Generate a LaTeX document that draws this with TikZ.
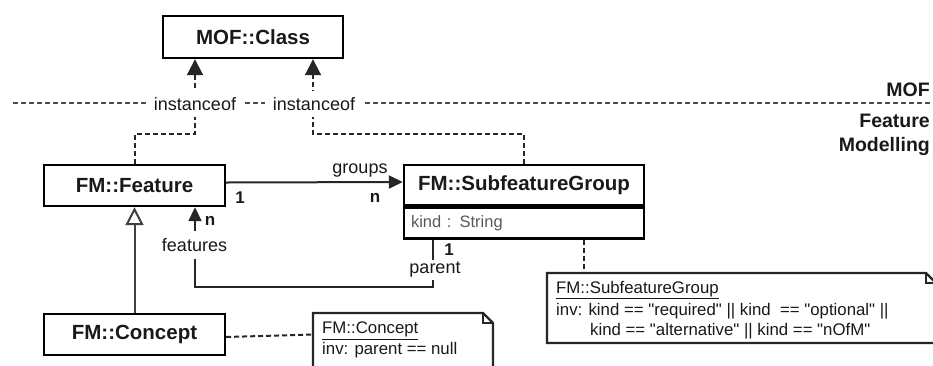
\documentclass[tikz,border=0pt]{standalone}
\usepackage{fontspec}
\setmainfont{Liberation Sans}
\usetikzlibrary{arrows.meta}

\newcommand{\qq}[1]{\textquotedbl#1\textquotedbl}

\tikzset{
  every node/.style={font=\fontsize{18}{21}\selectfont, text=black!90},
  classbox/.style={draw, line width=2.4pt, inner sep=0pt, font=\fontsize{20.5}{24}\selectfont\bfseries},
  attrbox/.style={draw, line width=2.4pt, inner sep=0pt, font=\fontsize{16.5}{20}\selectfont, text=black!65},
  conn/.style={line width=2pt, black!85},
  dephead/.style={-{Triangle[length=16pt,width=16pt]}},
  assochead/.style={-{Triangle[length=14pt,width=13pt]}},
  dep/.style={conn, dash pattern=on 5pt off 3pt, dephead},
  notelink/.style={conn, dash pattern=on 5pt off 3pt},
  sepline/.style={line width=1.8pt, black!70, dash pattern=on 5pt off 3pt},
  lbl/.style={fill=white, inner xsep=8pt, inner ysep=6pt},
  mult/.style={inner sep=1pt, font=\fontsize{17}{20}\selectfont\bfseries},
  layer/.style={font=\fontsize{19.5}{24}\selectfont\bfseries, align=right, inner sep=0pt},
  notetext/.style={align=left, inner sep=0pt, anchor=north west, font=\fontsize{16.8}{20}\selectfont},
  notebody/.style={line width=2.2pt, black!85, fill=white},
  fold/.style={line width=1.4pt, black!85},
  genhead/.style={-{Triangle[open, length=18pt, width=18pt, fill=white]}},
}

\begin{document}
\begin{tikzpicture}[x=1pt, y=-1pt]
\useasboundingbox (0,0) rectangle (933,365);
\clip (0,0) rectangle (933,365);

% layer separator with its labels
\draw[sepline] (13,103) -- (933,103);
\node[layer, anchor=south east] (mofl) at (930,97) {MOF};
\node[layer, anchor=north east] (fml) at (930,114) {Feature\\Modelling};

% classes
\node[classbox, minimum width=180pt, minimum height=42pt] (mof) at (253,37) {MOF::Class};
\node[classbox, minimum width=181pt, minimum height=41pt] (feat) at (134.5,185.5) {FM::Feature};
\node[classbox, minimum width=240pt, minimum height=40pt] (sfg) at (524,185) {FM::SubfeatureGroup};
\node[attrbox, minimum width=240pt, minimum height=31pt, anchor=north,
      text width=226pt, align=left] (sfgattr) at (sfg.south) {kind : String};
\node[classbox, minimum width=181pt, minimum height=41pt] (conc) at (134.5,334.5) {FM::Concept};

% instanceof dependencies
\draw[dep] (feat.north) -- ++(0,-30) -| ([xshift=-58pt]mof.south);
\draw[dep] (sfg.north) -- ++(0,-30) -| ([xshift=60pt]mof.south);
\node[lbl] (io1) at (195,104) {instanceof};
\node[lbl] (io2) at (314,104) {instanceof};

% groups association
\draw[conn, assochead] ([yshift=3pt]feat.east) -- ([yshift=3pt]sfg.west);
\node[inner sep=1pt] (grp) at (360,171) {groups};
\node[mult] (m1) at (240,198) {1};
\node[mult] (mn) at (375,198) {n};

% generalization
\draw[conn, black!75, genhead] (conc.north) -- (feat.south);

% features / parent association
\coordinate (pend) at ([xshift=-91pt]sfgattr.south);
\coordinate (fend) at ([xshift=60.5pt]feat.south);
\draw[conn, assochead] (pend) -- ++(0,47) -| (fend);
\node[fill=white, inner xsep=2pt, inner ysep=7pt] (fl) at (194.5,245) {features};
\node[fill=white, inner xsep=2pt, inner ysep=2pt] (pl) at (435,270) {parent};
\node[mult] (mn2) at (210,221) {n};
\node[mult] (m12) at (449,250) {1};

% notes
\coordinate (cnw) at (313,313);
\coordinate (cne) at (493,313);
\draw[notebody] (cnw) -- ([xshift=-10pt]cne) -- ([yshift=-10pt]cne) -- (493,380) -- (313,380) -- cycle;
\draw[fold] ([xshift=-10pt]cne) -- ([xshift=-10pt,yshift=-10pt]cne) -- ([yshift=-10pt]cne);
\node[notetext] (cnt) at (322,322) {\underline{FM::Concept}\\[1pt]inv: parent == null};

\coordinate (snw) at (547,273);
\coordinate (sne) at (936,273);
\draw[notebody] (snw) -- ([xshift=-10pt]sne) -- ([yshift=-10pt]sne) -- (936,343) -- (547,343) -- cycle;
\draw[fold] ([xshift=-10pt]sne) -- ([xshift=-10pt,yshift=-10pt]sne) -- ([yshift=-10pt]sne);
\node[notetext] (snt) at (556,281) {\underline{FM::SubfeatureGroup}\\[2pt]
  inv: kind == \qq{required} || kind\ \ == \qq{optional} ||\\
  \hspace*{34pt}kind == \qq{alternative} || kind == \qq{nOfM}};

% note links
\draw[notelink] ([yshift=-2.5pt]conc.east) -- (cnw |- conc.east);
\coordinate (sna) at (584,273);
\draw[notelink] (sfgattr.south -| sna) -- (sna);
\end{tikzpicture}
\end{document}
